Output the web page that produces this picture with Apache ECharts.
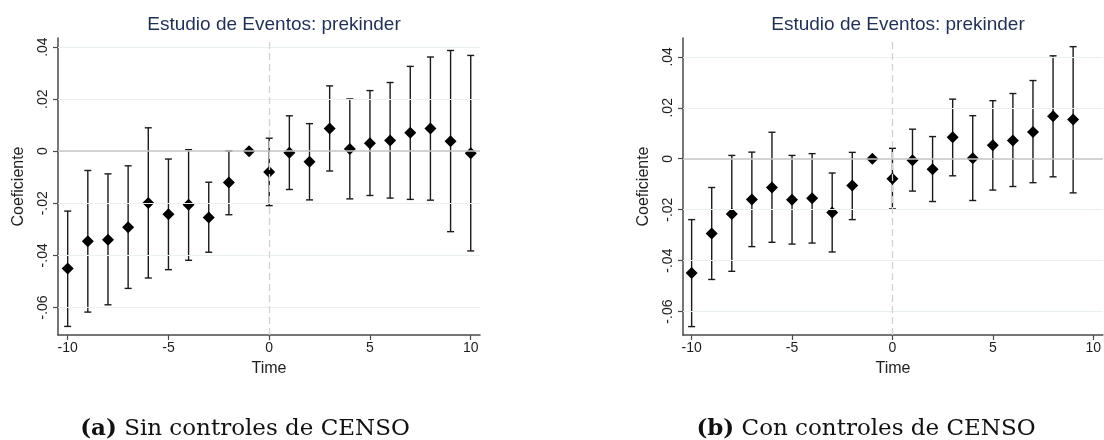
<!DOCTYPE html>
<html>
<head>
<meta charset="utf-8">
<script src="https://cdn.jsdelivr.net/npm/echarts@6/dist/echarts.min.js"></script>
<style>
html,body{margin:0;padding:0;background:#fff;}
#chart{width:1104px;height:440px;}
</style>
</head>
<body>
<div id="chart"></div>
<script>
// ---- Data ----
const timesA = [-10,-9,-8,-7,-6,-5,-4,-3,-2,-1,0,1,2,3,4,5,6,7,8,9,10];
const coefA = [-0.0451,-0.0346,-0.0340,-0.0292,-0.0199,-0.0242,-0.0206,-0.0255,-0.0120,0,-0.0080,-0.0006,-0.0040,0.0087,0.0009,0.0031,0.0041,0.0071,0.0087,0.0038,-0.0008];
const hiA = [-0.0230,-0.0074,-0.0087,-0.0056,0.0090,-0.0030,0.0006,-0.0119,0.0001,null,0.0050,0.0136,0.0106,0.0251,0.0201,0.0233,0.0264,0.0326,0.0362,0.0387,0.0368];
const loA = [-0.0673,-0.0618,-0.0590,-0.0527,-0.0487,-0.0455,-0.0419,-0.0388,-0.0244,null,-0.0209,-0.0147,-0.0187,-0.0076,-0.0183,-0.0170,-0.0180,-0.0185,-0.0188,-0.0309,-0.0383];

const timesB = [-10,-9,-8,-7,-6,-5,-4,-3,-2,-1,0,1,2,3,4,5,6,7,8,9];
const coefB = [-0.0449,-0.0294,-0.0217,-0.0160,-0.0113,-0.0161,-0.0155,-0.0211,-0.0105,0,-0.0079,-0.0006,-0.0041,0.0084,0.0002,0.0053,0.0072,0.0105,0.0167,0.0154];
const hiB = [-0.0239,-0.0113,0.0013,0.0026,0.0104,0.0013,0.0020,-0.0056,0.0025,null,0.0041,0.0116,0.0087,0.0234,0.0169,0.0228,0.0256,0.0307,0.0404,0.0440];
const loB = [-0.0659,-0.0474,-0.0442,-0.0345,-0.0328,-0.0335,-0.0331,-0.0366,-0.0239,null,-0.0197,-0.0127,-0.0168,-0.0067,-0.0164,-0.0123,-0.0109,-0.0094,-0.0071,-0.0134];

const xTickVals = [-10,-5,0,5,10];
const xTickLabels = ['-10','-5','0','5','10'];
const yTickVals = [-0.06,-0.04,-0.02,0,0.02,0.04];
const yTickLabels = ['-.06','-.04','-.02','0','.02','.04'];

const titleText = 'Estudio de Eventos: prekinder';
const xName = 'Time';
const yName = 'Coeficiente';
const captionA = ['(a)', 'Sin controles de CENSO'];
const captionB = ['(b)', 'Con controles de CENSO'];

// ---- Styles ----
const AXIS_COLOR = '#4a4a4a';
const TEXT_COLOR = '#1e1e1e';
const TITLE_COLOR = '#1f2f5a';
const GRID_COLOR = '#e8f0f1';
const ZERO_COLOR = '#c4c4c4';
const FONT = '"Liberation Sans", Arial, sans-serif';

function fmt(labels, vals) {
  return function (v) {
    for (let i = 0; i < vals.length; i++) {
      if (Math.abs(vals[i] - v) < 1e-9) return labels[i];
    }
    return '';
  };
}

function xAxisCfg(gi, min, max) {
  return {
    gridIndex: gi, type: 'value', min: min, max: max,
    name: xName, nameLocation: 'middle', nameGap: 26,
    nameTextStyle: { fontFamily: FONT, fontSize: 16, color: TEXT_COLOR },
    axisLine: { show: true, onZero: false, lineStyle: { color: AXIS_COLOR, width: 1.5 } },
    axisTick: { show: true, length: 5, customValues: xTickVals, lineStyle: { color: AXIS_COLOR, width: 1.2 } },
    axisLabel: { customValues: xTickVals, formatter: fmt(xTickLabels, xTickVals), margin: 6,
      fontFamily: FONT, fontSize: 14, color: TEXT_COLOR },
    splitLine: { show: false }
  };
}
function yAxisCfg(gi, min, max) {
  return {
    gridIndex: gi, type: 'value', min: min, max: max,
    name: yName, nameLocation: 'middle', nameGap: 31, nameRotate: 90,
    nameTextStyle: { fontFamily: FONT, fontSize: 16, color: TEXT_COLOR },
    axisLine: { show: true, onZero: false, lineStyle: { color: AXIS_COLOR, width: 1.5 } },
    axisTick: { show: true, length: 5, customValues: yTickVals, lineStyle: { color: AXIS_COLOR, width: 1.2 } },
    axisLabel: { customValues: yTickVals, formatter: fmt(yTickLabels, yTickVals), rotate: 90, margin: 8,
      fontFamily: FONT, fontSize: 14, color: TEXT_COLOR },
    splitLine: { show: false }
  };
}

function errorRender(params, api) {
  const lo = api.value(1), hi = api.value(2);
  if (isNaN(lo) || isNaN(hi)) return null;
  const x = api.value(0);
  const pTop = api.coord([x, hi]);
  const pBot = api.coord([x, lo]);
  const cw = 3.5;
  const style = { stroke: '#1a1a1a', lineWidth: 1.4 };
  return {
    type: 'group',
    children: [
      { type: 'line', shape: { x1: pTop[0], y1: pTop[1], x2: pBot[0], y2: pBot[1] }, style: style },
      { type: 'line', shape: { x1: pTop[0] - cw, y1: pTop[1], x2: pTop[0] + cw, y2: pTop[1] }, style: style },
      { type: 'line', shape: { x1: pBot[0] - cw, y1: pBot[1], x2: pBot[0] + cw, y2: pBot[1] }, style: style }
    ]
  };
}

function panelSeries(gi, times, coef, lo, hi) {
  const guides = yTickVals.map(function (v) {
    return { yAxis: v, lineStyle: { color: v === 0 ? ZERO_COLOR : GRID_COLOR, width: v === 0 ? 1.6 : 1.2, type: 'solid' } };
  });
  guides.push({ xAxis: 0, lineStyle: { color: '#d2d2d2', width: 1.3, type: [7, 4] } });
  return [
    {
      type: 'scatter', xAxisIndex: gi, yAxisIndex: gi, data: [], z: 1, silent: true,
      markLine: { silent: true, symbol: 'none', label: { show: false }, animation: false, data: guides }
    },
    {
      type: 'custom', xAxisIndex: gi, yAxisIndex: gi, z: 3, silent: true,
      renderItem: errorRender,
      data: times.map(function (t, i) { return [t, lo[i] === null ? '-' : lo[i], hi[i] === null ? '-' : hi[i]]; })
    },
    {
      type: 'scatter', xAxisIndex: gi, yAxisIndex: gi, z: 4, silent: true,
      symbol: 'diamond', symbolSize: [12, 12],
      itemStyle: { color: '#000', opacity: 1 },
      data: times.map(function (t, i) { return [t, coef[i]]; })
    }
  ];
}

const chart = echarts.init(document.getElementById('chart'), null, { renderer: 'canvas' });
const captionRich = { b: { fontFamily: '"DejaVu Serif", serif', fontWeight: 'bold', fontSize: 23, color: '#111' } };
chart.setOption({
  animation: false,
  backgroundColor: '#fff',
  title: [
    { text: titleText, left: 269, top: 10, textAlign: 'center',
      textStyle: { fontFamily: FONT, fontSize: 19, fontWeight: 'normal', color: TITLE_COLOR } },
    { text: titleText, left: 893, top: 10, textAlign: 'center',
      textStyle: { fontFamily: FONT, fontSize: 19, fontWeight: 'normal', color: TITLE_COLOR } },
    { text: '{b|' + captionA[0] + '} ' + captionA[1], left: 240, top: 413, textAlign: 'center',
      textStyle: { fontFamily: '"DejaVu Serif", serif', fontSize: 23, fontWeight: 'normal', color: '#111', rich: captionRich } },
    { text: '{b|' + captionB[0] + '} ' + captionB[1], left: 861, top: 413, textAlign: 'center',
      textStyle: { fontFamily: '"DejaVu Serif", serif', fontSize: 23, fontWeight: 'normal', color: '#111', rich: captionRich } }
  ],
  grid: [
    { left: 58, top: 38, width: 422, height: 297 },
    { left: 683, top: 38, width: 421, height: 297 }
  ],
  xAxis: [xAxisCfg(0, -10.48, 10.46), xAxisCfg(1, -10.43, 10.48)],
  yAxis: [yAxisCfg(0, -0.0706, 0.0435), yAxisCfg(1, -0.0692, 0.0474)],
  series: [].concat(
    panelSeries(0, timesA, coefA, loA, hiA),
    panelSeries(1, timesB, coefB, loB, hiB)
  )
});
</script>
</body>
</html>
